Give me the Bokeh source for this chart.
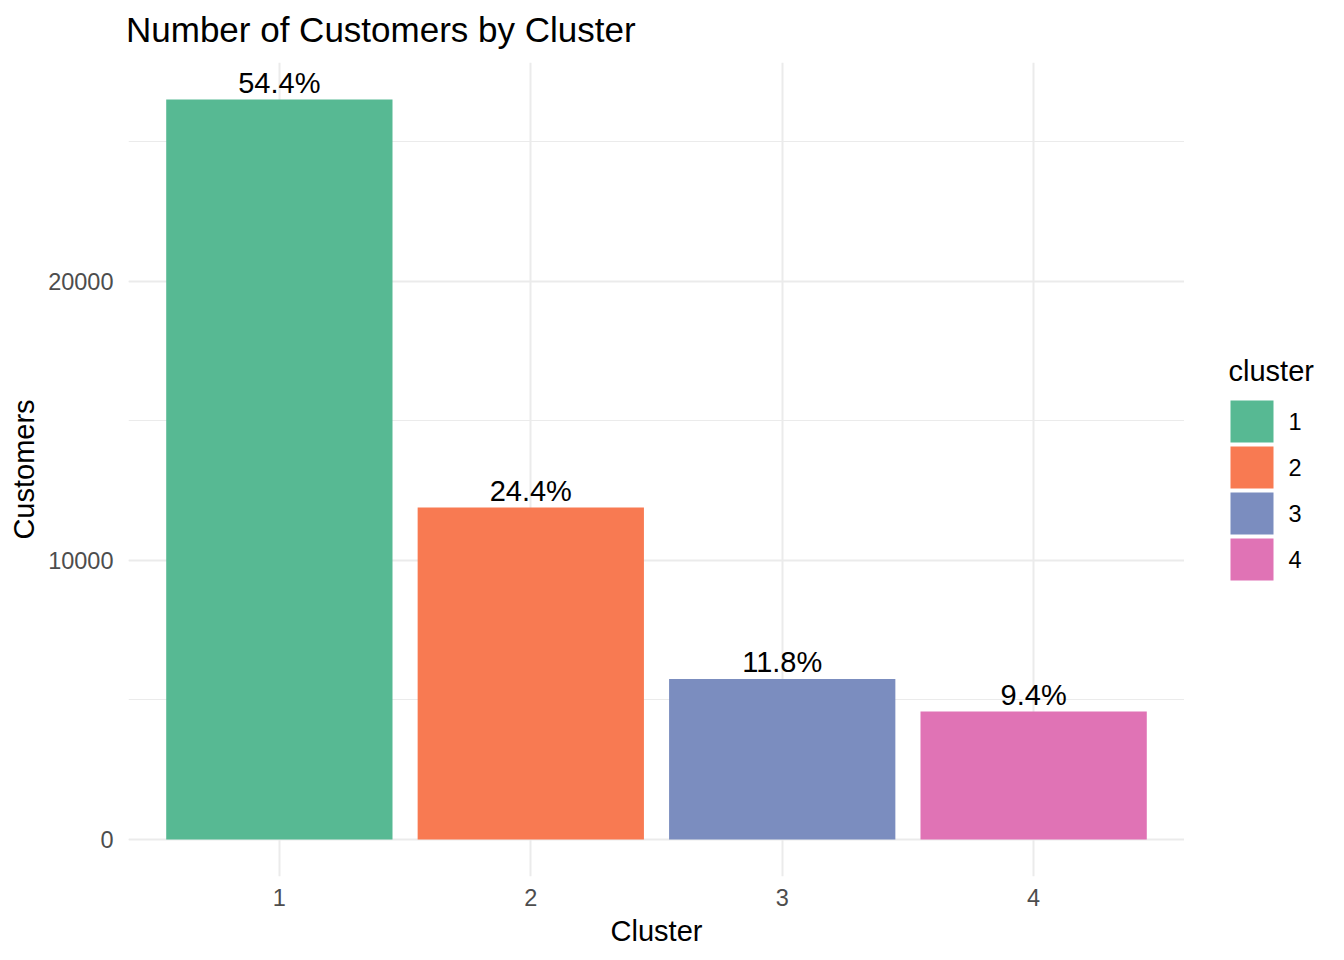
from bokeh.plotting import figure
from bokeh.models import (ColumnDataSource, Range1d, FixedTicker, SingleIntervalTicker,
                          Title)
from bokeh.layouts import row
from bokeh.core.properties import value
from bokeh.embed import file_html
from bokeh.resources import INLINE

# ---- data ----
clusters = [1, 2, 3, 4]
cluster_labels = ["1", "2", "3", "4"]
customers = [26520, 11895, 5752, 4583]
pct_labels = ["54.4%", "24.4%", "11.8%", "9.4%"]
colors = ["#57B993", "#F87A52", "#7B8DBF", "#E073B5"]

FONT = "Liberation Sans"

# ---- layout constants (pixels) ----
MAIN_W, LEG_W, H = 1184, 160, 960
TOP, BOTTOM, LEFT = 62, 84, 128
KEY_LEFT, KEY_W, KEY_H, KEY_STEP, KEY_FIRST_CENTER = 1230, 43, 42, 46, 421
LABEL_X, LEG_TITLE_X, LEG_TITLE_Y = 1288, 1228, 370

ymax = max(customers)
pad = 0.05 * ymax

p = figure(width=MAIN_W, height=H, output_backend="svg", toolbar_location=None,
           x_range=Range1d(0.4, 4.6), y_range=Range1d(-pad, ymax + pad),
           min_border_left=LEFT, min_border_right=0, min_border_top=TOP,
           min_border_bottom=BOTTOM)
p.outline_line_color = None
p.background_fill_color = "white"
p.border_fill_color = "white"
p.title.text = ""

# spacer title (closest to the frame), then the real title above it
p.add_layout(Title(text=" ", text_font_size="1px", standoff=11), "above")
p.add_layout(Title(text="Number of Customers by Cluster", text_font=FONT,
                   text_font_size="35px", text_font_style="normal",
                   text_color="black", align="left", offset=-2.5, standoff=0),
             "above")

src = ColumnDataSource(dict(x=clusters, y=customers, color=colors,
                            lab=cluster_labels, pct=pct_labels))

p.vbar(x="x", top="y", bottom=0, width=0.9, source=src,
       fill_color="color", line_color=None)

p.text(x="x", y="y", text="pct", source=src, text_align="center",
       text_baseline="alphabetic", y_offset=-17, text_font=value(FONT),
       text_font_size="29px", text_color="black")

# axes
p.xaxis.ticker = FixedTicker(ticks=clusters)
p.xaxis.major_label_overrides = {c: l for c, l in zip(clusters, cluster_labels)}
p.yaxis.ticker = SingleIntervalTicker(interval=10000, num_minor_ticks=2)
for ax in (p.xaxis[0], p.yaxis[0]):
    ax.axis_line_color = None
    ax.major_tick_line_color = None
    ax.minor_tick_line_color = None
    ax.major_tick_out = 0
    ax.major_tick_in = 0
    ax.minor_tick_out = 0
    ax.major_label_text_font = FONT
    ax.major_label_text_font_size = "23.5px"
    ax.major_label_text_color = "#4D4D4D"
    ax.axis_label_text_font = FONT
    ax.axis_label_text_font_size = "29px"
    ax.axis_label_text_font_style = "normal"
    ax.axis_label_text_color = "black"
p.xaxis.axis_label = "Cluster"
p.yaxis.axis_label = "Customers"
p.xaxis.major_label_standoff = 12
p.xaxis.axis_label_standoff = 6
p.yaxis.major_label_standoff = 15
p.yaxis.axis_label_standoff = 5

# grid
p.xgrid.ticker = FixedTicker(ticks=clusters)
p.xgrid.grid_line_color = "#EBEBEB"
p.xgrid.grid_line_width = 2
p.ygrid.grid_line_color = "#EBEBEB"
p.ygrid.grid_line_width = 2
p.ygrid.minor_grid_line_color = "#EBEBEB"
p.ygrid.minor_grid_line_width = 1

# ---- legend: a small figure whose data units are page pixels ----
leg = figure(width=LEG_W, height=H, output_backend="svg", toolbar_location=None,
             x_range=Range1d(MAIN_W, MAIN_W + LEG_W),
             y_range=Range1d(H - BOTTOM, TOP),
             x_axis_location=None, y_axis_location=None,
             min_border_left=0, min_border_right=0, min_border_top=TOP,
             min_border_bottom=BOTTOM)
leg.outline_line_color = None
leg.grid.visible = False
leg.background_fill_color = "white"
leg.border_fill_color = "white"

key_y = [KEY_FIRST_CENTER + KEY_STEP * i for i in range(len(cluster_labels))]
lsrc = ColumnDataSource(dict(lab=cluster_labels, color=colors, y=key_y))
leg.hbar(y="y", left=KEY_LEFT, right=KEY_LEFT + KEY_W, height=KEY_H, source=lsrc,
         fill_color="color", line_color=None)
leg.text(x=LABEL_X, y="y", text="lab", source=lsrc, text_align="left",
         text_baseline="middle", text_font=value(FONT),
         text_font_size="23.5px", text_color="black")
leg.text(x=[LEG_TITLE_X], y=[LEG_TITLE_Y], text=["cluster"], text_align="left",
         text_baseline="middle", text_font=value(FONT),
         text_font_size="29px", text_color="black")

layout = row(p, leg)
open("out.html", "w").write(file_html(layout, INLINE))
